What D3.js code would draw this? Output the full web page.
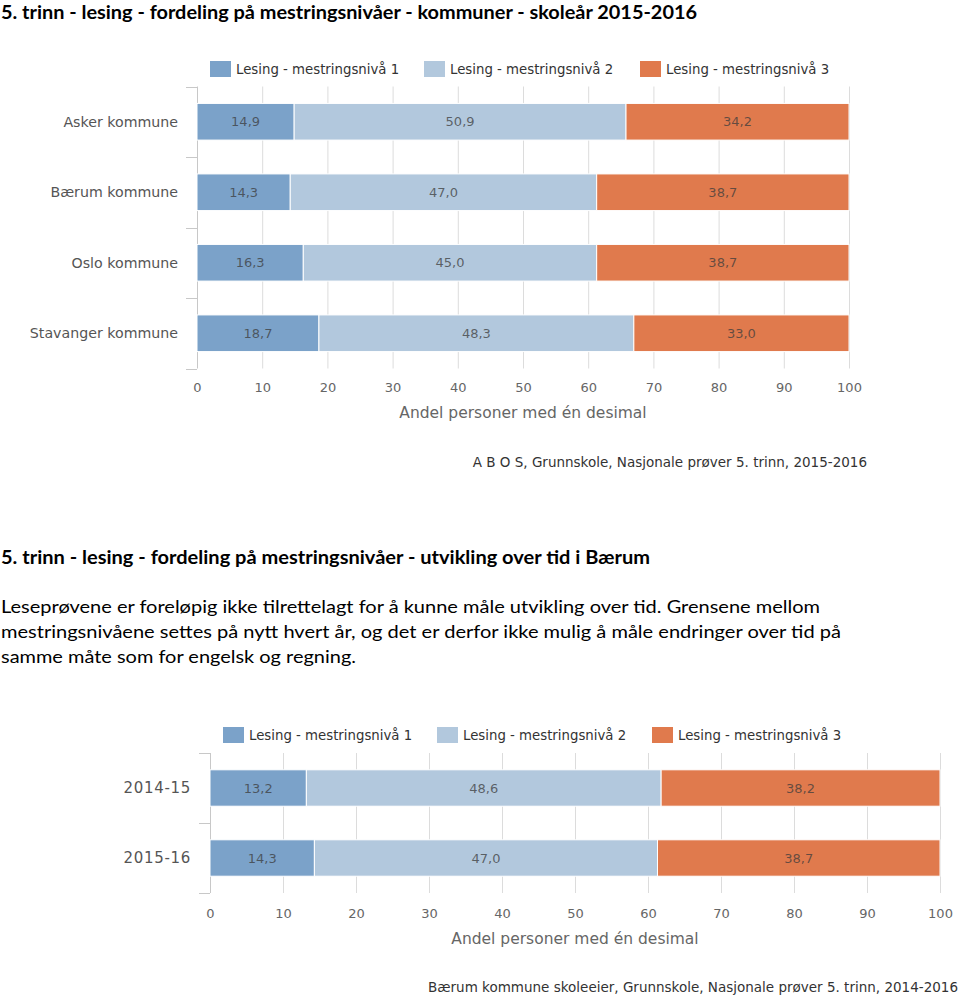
<!DOCTYPE html>
<html><head><meta charset="utf-8">
<script src="https://cdn.jsdelivr.net/npm/d3@7"></script>
<style>body{margin:0;background:#fff}svg{display:block}</style>
</head><body>
<svg id="c" width="960" height="997"></svg>
<script>
// ---- data ----
const seriesNames = ["Lesing - mestringsnivå 1","Lesing - mestringsnivå 2","Lesing - mestringsnivå 3"];
const colors = ["#7ba2c9","#b2c8dd","#e07a4d"];
const kommuner = ["Asker kommune","Bærum kommune","Oslo kommune","Stavanger kommune"];
const kommunerNiva1 = [14.9,14.3,16.3,18.7];
const kommunerNiva2 = [50.9,47.0,45.0,48.3];
const kommunerNiva3 = [34.2,38.7,38.7,33.0];
const aar = ["2014-15","2015-16"];
const aarNiva1 = [13.2,14.3];
const aarNiva2 = [48.6,47.0];
const aarNiva3 = [38.2,38.7];
const xTicks = [0,10,20,30,40,50,60,70,80,90,100];
const axisTitle = "Andel personer med én desimal";
const source1 = "A B O S, Grunnskole, Nasjonale prøver 5. trinn, 2015-2016";
const source2 = "Bærum kommune skoleeier, Grunnskole, Nasjonale prøver 5. trinn, 2014-2016";
const title1 = "5. trinn - lesing - fordeling på mestringsnivåer - kommuner - skoleår 2015-2016";
const title2 = "5. trinn - lesing - fordeling på mestringsnivåer - utvikling over tid i Bærum";
const bodyLines = [
 "Leseprøvene er foreløpig ikke tilrettelagt for å kunne måle utvikling over tid. Grensene mellom",
 "mestringsnivåene settes på nytt hvert år, og det er derfor ikke mulig å måle endringer over tid på",
 "samme måte som for engelsk og regning."
];

const svg = d3.select("#c");
const chartFont = "'DejaVu Sans', Verdana, sans-serif";
const docFont = "Lato, 'Open Sans', sans-serif";

// headings and body text
svg.append("text").attr("x",1).attr("y",19).attr("font-family",docFont).attr("font-weight","bold")
  .attr("font-size",18).attr("fill","#000").attr("textLength",696).attr("lengthAdjust","spacingAndGlyphs").text(title1);
svg.append("text").attr("x",1).attr("y",564).attr("font-family",docFont).attr("font-weight","bold")
  .attr("font-size",18).attr("fill","#000").attr("textLength",649).attr("lengthAdjust","spacingAndGlyphs").text(title2);
const bodyW = [820,841,356];
bodyLines.forEach((t,i)=>{
  svg.append("text").attr("x",1).attr("y",613+i*25).attr("font-family",docFont)
    .attr("font-size",18).attr("fill","#000").attr("textLength",bodyW[i]-1).attr("lengthAdjust","spacingAndGlyphs").text(t);
});

function drawChart(cfg){
  const {cats, v1, v2, v3, x0, x1, y0, y1, legendY, legendX, labelRight, labelSize, labelSpacing, tickY, titleY, sourceY, sourceRight, source} = cfg;
  const g = svg.append("g");
  const x = d3.scaleLinear().domain([0,100]).range([x0,x1]);
  const y = d3.scaleBand().domain(cats).range([y0,y1]).paddingInner(0.48).paddingOuter(0.24);
  const step = y.step();

  // legend
  seriesNames.forEach((s,i)=>{
    g.append("rect").attr("x",legendX[i]).attr("y",legendY-8).attr("width",21).attr("height",16).attr("fill",colors[i]);
    g.append("text").attr("x",legendX[i]+26).attr("y",legendY).attr("dy","0.35em")
      .attr("font-family",chartFont).attr("font-size",13.3).attr("fill","#333").text(s);
  });

  // grid
  g.append("g").selectAll("line").data(xTicks.slice(1)).join("line")
    .attr("x1",d=>x(d)+0.5).attr("x2",d=>x(d)+0.5).attr("y1",y0).attr("y2",y1)
    .attr("stroke","#dcdcdc").attr("stroke-width",1);

  // category axis line & ticks
  g.append("line").attr("x1",x0+0.5).attr("x2",x0+0.5).attr("y1",y0).attr("y2",y1).attr("stroke","#c8c8c8");
  const bounds = d3.range(cats.length+1).map(i=>y0+i*step);
  g.append("g").selectAll("line").data(bounds).join("line")
    .attr("x1",x0-11).attr("x2",x0).attr("y1",d=>Math.round(d)+0.5).attr("y2",d=>Math.round(d)+0.5)
    .attr("stroke","#c8c8c8");

  // bars
  const rows = cats.map((c,i)=>({cat:c, vals:[v1[i],v2[i],v3[i]]}));
  rows.forEach(r=>{
    let acc=0;
    r.vals.forEach((v,k)=>{
      const a=acc, b=acc+v; acc=b;
      g.append("rect").attr("x",x(a)).attr("y",y(r.cat)).attr("width",x(Math.min(b,100))-x(a)).attr("height",y.bandwidth())
        .attr("fill",colors[k]).attr("stroke","#fff").attr("stroke-width",1);
      g.append("text").attr("x",(x(a)+x(Math.min(b,100)))/2).attr("y",y(r.cat)+y.bandwidth()/2).attr("dy","0.35em")
        .attr("text-anchor","middle").attr("font-family",chartFont).attr("font-size",13)
        .attr("fill","#3c3c3c").attr("fill-opacity",0.75).text(d3.format(".1f")(v).replace(".",","));
    });
  });

  // category labels
  g.append("g").selectAll("text").data(cats).join("text")
    .attr("x",labelRight).attr("y",d=>y(d)+y.bandwidth()/2).attr("dy","0.35em").attr("text-anchor","end")
    .attr("font-family",chartFont).attr("font-size",labelSize).attr("letter-spacing",labelSpacing)
    .attr("fill","#555").text(d=>d);

  // value axis
  const ax = g.append("g").attr("transform",`translate(0,${y1})`)
    .call(d3.axisBottom(x).tickValues(xTicks).tickSize(0).tickPadding(0).tickFormat(d3.format("d")));
  ax.select(".domain").remove();
  ax.selectAll("text").attr("y",tickY-y1).attr("dy","0.35em").attr("font-family",chartFont).attr("font-size",13).attr("fill","#666");

  g.append("text").attr("x",(x0+x1)/2).attr("y",titleY).attr("dy","0.35em").attr("text-anchor","middle")
    .attr("font-family",chartFont).attr("font-size",15.5).attr("fill","#666").text(axisTitle);
  g.append("text").attr("x",sourceRight).attr("y",sourceY).attr("dy","0.35em").attr("text-anchor","end")
    .attr("font-family",chartFont).attr("font-size",13.5).attr("fill","#333").text(source);
}

drawChart({cats:kommuner, v1:kommunerNiva1, v2:kommunerNiva2, v3:kommunerNiva3,
  x0:197, x1:849, y0:86.5, y1:368.5, legendY:69, legendX:[210,424,640], labelRight:178, labelSize:14.2, labelSpacing:0,
  tickY:387, titleY:413, sourceY:462, sourceRight:867, source:source1});
drawChart({cats:aar, v1:aarNiva1, v2:aarNiva2, v3:aarNiva3,
  x0:210, x1:940, y0:753, y1:893, legendY:735, legendX:[223,437,652], labelRight:191, labelSize:15, labelSpacing:0.7,
  tickY:913, titleY:939, sourceY:987, sourceRight:958, source:source2});
</script>
</body></html>
